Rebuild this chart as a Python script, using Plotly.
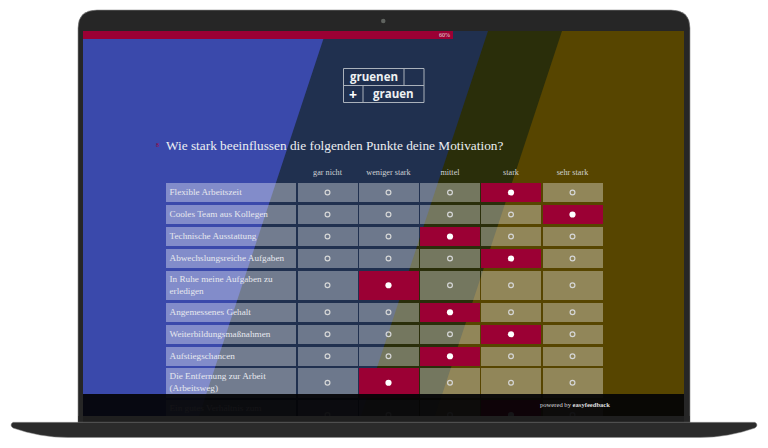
import plotly.graph_objects as go

# ---- chart content
question = "Wie stark beeinflussen die folgenden Punkte deine Motivation?"
columns = ["gar nicht", "weniger stark", "mittel", "stark", "sehr stark"]
statements = [
    "Flexible Arbeitszeit",
    "Cooles Team aus Kollegen",
    "Technische Ausstattung",
    "Abwechslungsreiche Aufgaben",
    "In Ruhe meine Aufgaben zu<br>erledigen",
    "Angemessenes Gehalt",
    "Weiterbildungsmaßnahmen",
    "Aufstiegschancen",
    "Die Entfernung zur Arbeit<br>(Arbeitsweg)",
    "Ein gutes Verhältnis zum<br>Vorgesetzten",
]
selected = [3, 4, 2, 3, 1, 2, 3, 2, 1, 3]

# ---- page geometry (pixels of the 768x448 picture)
col_left = [297.5, 358.5, 420, 481, 542.5]
col_width = [60, 60, 60, 60, 60]
label_left, label_width = 165.5, 130.5
row_top = [183, 205, 227, 249, 271, 303, 325, 347, 368, 400]
row_height = [19, 19, 19, 19, 28.5, 18.5, 18.5, 18.5, 29.5, 30]

CELL = "rgba(255,255,255,0.35)"
LABEL = "rgba(255,255,255,0.37)"
RED = "#9b0034"
TEXT = "#e6e8ee"
SERIF = "Liberation Serif"


def poly(pts):
    return "M" + " L".join(f"{x},{y}" for x, y in pts) + " Z"


def rect(x0, y0, x1, y1, color, layer="below", line=None):
    return dict(type="rect", x0=x0, y0=y0, x1=x1, y1=y1, fillcolor=color, layer=layer,
                line=dict(width=0) if line is None else line)


shapes = [
    # laptop lid
    dict(type="path", layer="below", fillcolor="#262626", line=dict(color="#8f8f8f", width=0.6),
         path="M78,424 L78,28 Q78,10 97,10 L671,10 Q690,10 690,28 L690,424 Z"),
    # screen background bands
    rect(83, 31, 684, 416, "#574500"),
    dict(type="path", layer="below", fillcolor="#2a2e0a", line=dict(width=0),
         path=poly([(83, 31), (562, 31), (435, 416), (83, 416)])),
    dict(type="path", layer="below", fillcolor="#20304f", line=dict(width=0),
         path=poly([(83, 31), (488, 31), (361, 416), (83, 416)])),
    dict(type="path", layer="below", fillcolor="#3a49ab", line=dict(width=0),
         path=poly([(83, 31), (326, 31), (199, 416), (83, 416)])),
    # progress bar
    rect(83, 31, 453, 39, RED),
    # logo frame
    rect(343.5, 68.5, 424, 102.5, "rgba(0,0,0,0)", line=dict(color="#aab1bb", width=1)),
    dict(type="line", layer="below", x0=343.5, x1=424, y0=85.5, y1=85.5, line=dict(color="#aab1bb", width=1)),
    dict(type="line", layer="below", x0=404, x1=404, y0=68.5, y1=85.5, line=dict(color="#aab1bb", width=1)),
    dict(type="line", layer="below", x0=363, x1=363, y0=85.5, y1=102.5, line=dict(color="#aab1bb", width=1)),
    # camera
    dict(type="circle", layer="below", x0=381, x1=385.5, y0=18.7, y1=23.2, fillcolor="#5f635f", line=dict(width=0)),
    # footer and bottom bezel lie over the page
    rect(83, 394, 684, 416, "rgba(3,3,5,0.93)", "above"),
    rect(78.3, 416, 83, 424, "#262626", "above"),
    rect(684, 416, 689.7, 424, "#262626", "above"),
    rect(83, 416, 684, 423, "#1f1f1f", "above"),
    # base
    dict(type="path", layer="above", fillcolor="#2b2b2b", line=dict(color="#8c8c8c", width=0.5),
         path="M13,422.3 L755,422.3 Q759,425 755,428 Q728,437.5 700,437.5 L68,437.5 Q40,437.5 13,428 Q9,425 13,422.3 Z"),
]

fig = go.Figure()

# table cells
cell_x, cell_y, cell_w, cell_h, cell_c = [], [], [], [], []
for r, (top, h) in enumerate(zip(row_top, row_height)):
    cell_x.append(label_left + label_width / 2)
    cell_y.append(top)
    cell_w.append(label_width)
    cell_h.append(h)
    cell_c.append(LABEL)
    for c in range(len(columns)):
        cell_x.append(col_left[c] + col_width[c] / 2)
        cell_y.append(top)
        cell_w.append(col_width[c])
        cell_h.append(h)
        cell_c.append(RED if selected[r] == c else CELL)
fig.add_trace(go.Bar(x=cell_x, y=cell_h, base=cell_y, width=cell_w,
                     marker=dict(color=cell_c, line=dict(width=0)), hoverinfo="skip", showlegend=False))

# radio buttons
ox, oy, sx, sy = [], [], [], []
for r, (top, h) in enumerate(zip(row_top, row_height)):
    for c in range(len(columns)):
        x, y = col_left[c] + col_width[c] / 2, top + h / 2
        if selected[r] == c:
            sx.append(x); sy.append(y)
        else:
            ox.append(x); oy.append(y)
fig.add_trace(go.Scatter(x=ox, y=oy, mode="markers", showlegend=False, hoverinfo="skip",
                         marker=dict(size=4.8, color="rgba(0,0,0,0)", line=dict(color="#d5d6d6", width=1.2))))
fig.add_trace(go.Scatter(x=sx, y=sy, mode="markers", showlegend=False, hoverinfo="skip",
                         marker=dict(size=6.2, color="white", line=dict(width=0))))

# row labels
fig.add_trace(go.Scatter(x=[label_left + 4] * len(statements),
                         y=[t + h / 2 for t, h in zip(row_top, row_height)],
                         text=statements, mode="text", textposition="middle right", showlegend=False,
                         hoverinfo="skip", textfont=dict(family=SERIF, size=9.2, color=TEXT)))
# column headers
fig.add_trace(go.Scatter(x=[l + w / 2 for l, w in zip(col_left, col_width)], y=[173] * len(columns),
                         text=columns, mode="text", textposition="middle center", showlegend=False,
                         hoverinfo="skip", textfont=dict(family=SERIF, size=8.2, color="#cfd2d4")))


def note(x, y, text, size, color, family=SERIF, anchor="center"):
    return dict(x=x, y=y, text=text, showarrow=False, xanchor=anchor, yanchor="middle",
                font=dict(family=family, size=size, color=color))


annotations = [
    note(163.5, 145.5, question, 13.3, "#eceef2", anchor="left"),
    note(157, 145, "8", 6, RED),
    note(444, 35, "60%", 6, "#e8d8de"),
    note(374, 76.5, "<b>gruenen</b>", 11.5, "#eef0f2", "Open Sans"),
    note(393.5, 93.5, "<b>grauen</b>", 11.5, "#eef0f2", "Open Sans"),
    note(353, 94, "<b>+</b>", 14, "#ffffff", "Open Sans"),
    note(575, 404.5, "powered by <b>easyfeedback</b>", 6.6, "#dedede"),
]

fig.update_layout(
    width=768, height=448, margin=dict(l=0, r=0, t=0, b=0), autosize=False,
    paper_bgcolor="white", plot_bgcolor="white", showlegend=False,
    barmode="overlay", bargap=0,
    xaxis=dict(range=[0, 768], visible=False, fixedrange=True),
    yaxis=dict(range=[448, 0], visible=False, fixedrange=True),
    shapes=shapes, annotations=annotations,
)
fig.write_html("out.html", config=dict(displayModeBar=False),
               post_script="document.body.style.margin='0';document.body.style.overflow='hidden';")
